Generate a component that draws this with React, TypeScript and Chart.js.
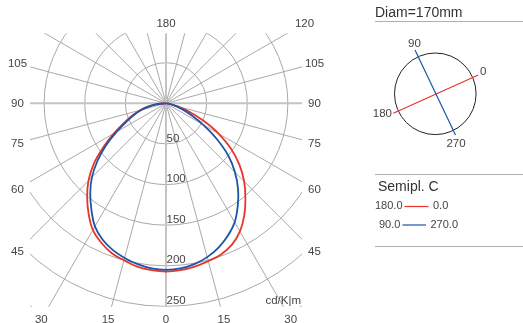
import React, { useEffect, useRef } from "react";
import { Chart, registerables } from "chart.js";

Chart.register(...registerables);

// gamma angles (degrees from nadir)
const GAMMA = [0, 5, 10, 15, 20, 25, 30, 35, 40, 45, 50, 55, 60, 65, 70, 75, 80, 85, 90];
// intensities cd/klm
const C0 = [207, 206, 204, 201, 198, 192, 182, 168, 152, 136, 118, 98, 75, 51, 31, 15, 6, 2, 0];
const C180 = [207, 206, 204, 200, 196, 189, 180, 166, 151, 135, 116, 94, 74, 57, 44, 33, 22, 11, 0];
const C90 = [205, 204, 201, 197, 192, 185, 175, 160, 145, 129, 110, 90, 70, 54, 42, 31, 20, 10, 0];
const C270 = [205, 204, 201, 196, 189, 180, 169, 154, 138, 120, 100, 76, 53, 34, 21, 11, 5, 1, 0];

const RING_VALUES = [50, 100, 150, 200, 250, 300, 350];
const RING_LABELS = [50, 100, 150, 200, 250];
const UNIT_LABEL = "cd/K|m";
// angle labels: [angle, side] side: -1 left, 1 right, 0 centre
const ANGLE_LABELS: [number, number][] = [
  [180, 0], [120, 1], [105, 1], [90, 1], [75, 1], [60, 1], [45, 1],
  [105, -1], [90, -1], [75, -1], [60, -1], [45, -1],
  [30, -1], [15, -1], [0, 0], [15, 1], [30, 1],
];
const LEGEND_TITLE = "Semipl. C";
const LEGEND_ROWS: [string, string][] = [["180.0", "0.0"], ["90.0", "270.0"]];
const DIAM_TEXT = "Diam=170mm";
const INSET_LABELS = { a0: "0", a90: "90", a180: "180", a270: "270" };

const RED = "#e8352b";
const BLUE = "#1a55a8";
const FONT = "'Liberation Sans', Arial, sans-serif";

// geometry
const CX = 166;
const CY = 103.3;
const K = 0.8125; // px per cd/klm
const W = 523;
const H = 323;

function side(vals: number[], sign: number, reverse: boolean) {
  const pts = GAMMA.map((g, i) => {
    const r = (g * Math.PI) / 180;
    return { x: sign * vals[i] * Math.sin(r), y: -vals[i] * Math.cos(r) };
  });
  return reverse ? pts.reverse() : pts;
}

const redData = [...side(C180, -1, true), ...side(C0, 1, false).slice(1)];
const blueData = [...side(C90, -1, true), ...side(C270, 1, false).slice(1)];

const gridPlugin = {
  id: "polarGrid",
  beforeDatasetsDraw(chart: any) {
    const { ctx } = chart;
    const xs = chart.scales.x;
    const ys = chart.scales.y;
    const cx = xs.getPixelForValue(0);
    const cy = ys.getPixelForValue(0);
    const k = xs.getPixelForValue(1) - cx;
    const left = cx - 136;
    const right = cx + 136;
    const top = cy - 70;
    const bottom = cy + 203.5;
    ctx.save();
    ctx.beginPath();
    ctx.rect(left, top, right - left, bottom - top);
    ctx.clip();
    ctx.strokeStyle = "#a9a9a9";
    ctx.lineWidth = 1;
    for (const r of RING_VALUES) {
      ctx.beginPath();
      ctx.arc(cx, cy, r * k, 0, Math.PI * 2);
      ctx.stroke();
    }
    for (let a = 0; a < 360; a += 15) {
      if (a % 90 === 0) continue;
      const t = (a * Math.PI) / 180;
      ctx.beginPath();
      ctx.moveTo(cx, cy);
      ctx.lineTo(cx + Math.sin(t) * 600, cy + Math.cos(t) * 600);
      ctx.stroke();
    }
    ctx.strokeStyle = "#c4c4c4";
    ctx.lineWidth = 2;
    ctx.beginPath();
    ctx.moveTo(cx, top);
    ctx.lineTo(cx, bottom);
    ctx.moveTo(left, cy);
    ctx.lineTo(right, cy);
    ctx.stroke();
    ctx.restore();

    ctx.save();
    ctx.fillStyle = "#444";
    ctx.font = `11.5px ${FONT}`;
    ctx.textBaseline = "middle";
    ctx.textAlign = "left";
    for (const v of RING_LABELS) {
      ctx.fillText(String(v), cx + 0.5, cy + v * k - 5.5);
    }
    ctx.textAlign = "right";
    ctx.fillText(UNIT_LABEL, right - 1, cy + 250 * k - 5.5);

    ctx.textAlign = "center";
    const LX = 148.5;
    const LT = 80;
    const LB = 216;
    for (const [a, s] of ANGLE_LABELS) {
      const t = (a * Math.PI) / 180;
      const dx = s === 0 ? 0 : s * Math.sin(t);
      const dy = Math.cos(t);
      let tt = 1e9;
      if (Math.abs(dx) > 1e-6) tt = Math.min(tt, LX / Math.abs(dx));
      if (dy > 1e-6) tt = Math.min(tt, LB / dy);
      if (dy < -1e-6) tt = Math.min(tt, LT / -dy);
      ctx.fillText(String(a), cx + dx * tt, cy + dy * tt + 0.5);
    }
    ctx.restore();
  },
  afterDraw(chart: any) {
    const { ctx } = chart;
    ctx.save();
    // Diam title
    ctx.fillStyle = "#333";
    ctx.font = `14px ${FONT}`;
    ctx.textBaseline = "middle";
    ctx.textAlign = "left";
    ctx.fillText(DIAM_TEXT, 375, 13.5);
    ctx.strokeStyle = "#b0b0b0";
    ctx.lineWidth = 1;
    ctx.beginPath();
    ctx.moveTo(375, 21.5);
    ctx.lineTo(W, 21.5);
    ctx.moveTo(375, 174.5);
    ctx.lineTo(W, 174.5);
    ctx.moveTo(375, 246.5);
    ctx.lineTo(W, 246.5);
    ctx.stroke();

    // inset circle
    const icx = 435.3;
    const icy = 93.8;
    ctx.strokeStyle = "#222";
    ctx.lineWidth = 1;
    ctx.beginPath();
    ctx.arc(icx, icy, 40.8, 0, Math.PI * 2);
    ctx.stroke();
    ctx.lineWidth = 1.2;
    ctx.strokeStyle = RED;
    ctx.beginPath();
    ctx.moveTo(393.3, 113.3);
    ctx.lineTo(478.3, 75);
    ctx.stroke();
    ctx.strokeStyle = BLUE;
    ctx.beginPath();
    ctx.moveTo(415, 50);
    ctx.lineTo(455.5, 135);
    ctx.stroke();
    ctx.fillStyle = "#444";
    ctx.font = `11.5px ${FONT}`;
    ctx.textAlign = "center";
    ctx.fillText(INSET_LABELS.a90, 414.5, 43.5);
    ctx.fillText(INSET_LABELS.a270, 456, 143.5);
    ctx.textAlign = "left";
    ctx.fillText(INSET_LABELS.a0, 480, 72);
    ctx.textAlign = "right";
    ctx.fillText(INSET_LABELS.a180, 392, 113.5);

    // legend
    ctx.fillStyle = "#333";
    ctx.font = `14px ${FONT}`;
    ctx.textAlign = "left";
    ctx.fillText(LEGEND_TITLE, 378, 187.5);
    ctx.font = `11px ${FONT}`;
    ctx.fillStyle = "#444";
    const rows = [
      { y: 206, x0: 375, l0: 404.5, l1: 428.5, x1: 433, c: RED },
      { y: 224.5, x0: 379, l0: 402.5, l1: 426, x1: 430.5, c: BLUE },
    ];
    rows.forEach((r, i) => {
      ctx.fillText(LEGEND_ROWS[i][0], r.x0, r.y);
      ctx.fillText(LEGEND_ROWS[i][1], r.x1, r.y);
      ctx.strokeStyle = r.c;
      ctx.lineWidth = 1.2;
      ctx.beginPath();
      ctx.moveTo(r.l0, r.y + 0.5);
      ctx.lineTo(r.l1, r.y + 0.5);
      ctx.stroke();
    });
    ctx.restore();
  },
};

export default function App() {
  const ref = useRef<HTMLCanvasElement>(null);
  useEffect(() => {
    document.body.style.margin = "0";
    const canvas = ref.current!;
    const chart = new Chart(canvas, {
      type: "scatter",
      data: {
        datasets: [
          {
            label: "C180-C0",
            data: redData,
            showLine: true,
            borderColor: RED,
            borderWidth: 1.8,
            pointRadius: 0,
            tension: 0.4,
            fill: false,
            order: 1,
          },
          {
            label: "C90-C270",
            data: blueData,
            showLine: true,
            borderColor: BLUE,
            borderWidth: 1.8,
            pointRadius: 0,
            tension: 0.4,
            fill: false,
            order: 0,
          },
        ],
      },
      options: {
        responsive: false,
        animation: false,
        devicePixelRatio: 1,
        layout: { padding: 0 },
        plugins: { legend: { display: false }, tooltip: { enabled: false } },
        scales: {
          x: { type: "linear", display: false, min: -CX / K, max: (W - CX) / K },
          y: { type: "linear", display: false, min: -(H - CY) / K, max: CY / K },
        },
      },
      plugins: [gridPlugin],
    });
    return () => chart.destroy();
  }, []);
  return (
    <div style={{ position: "absolute", left: 0, top: 0, width: W, height: H, background: "#fff" }}>
      <canvas ref={ref} width={W} height={H} style={{ display: "block" }} />
    </div>
  );
}
